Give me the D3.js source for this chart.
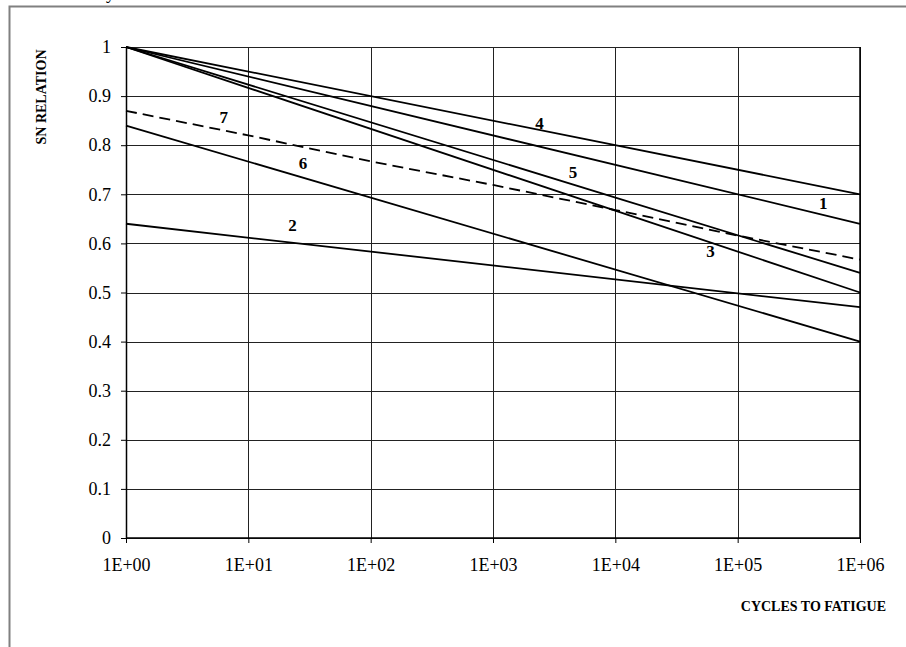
<!DOCTYPE html>
<html>
<head>
<meta charset="utf-8">
<script src="https://cdn.jsdelivr.net/npm/d3@7"></script>
<style>
  body { margin: 0; background: #fff; }
  text { font-family: "Liberation Serif", "Times New Roman", serif; }
</style>
</head>
<body>
<div id="chart"></div>
<script>
// S-N curves, cycles on a log axis
var cycles = [1, 1e6];
var dashedCycles = [1, 1e1, 1e2, 1e3, 1e4, 1e5, 1e6];

var curve1 = [1.0, 0.64];
var curve2 = [0.64, 0.47];
var curve3 = [1.0, 0.50];
var curve4 = [1.0, 0.70];
var curve5 = [1.0, 0.54];
var curve6 = [0.84, 0.40];
var curve7 = [0.87, 0.82, 0.767, 0.719, 0.668, 0.616, 0.567];

var xTicks = [1, 1e1, 1e2, 1e3, 1e4, 1e5, 1e6];
var xTickLabels = ["1E+00", "1E+01", "1E+02", "1E+03", "1E+04", "1E+05", "1E+06"];
var yTicks = [0, 0.1, 0.2, 0.3, 0.4, 0.5, 0.6, 0.7, 0.8, 0.9, 1];

// curve numbers and where they sit (cycles, relation)
var curveLabels = ["7", "6", "2", "4", "5", "3", "1"];
var labelAt = [[6.3, 0.857], [28, 0.763], [23, 0.637], [2400, 0.846], [4500, 0.745], [60000, 0.584], [500000, 0.683]];

var W = 906, H = 647;
var margin = {top: 47, right: 46, bottom: 109, left: 126},
    width = W - margin.left - margin.right,
    height = H - margin.top - margin.bottom;

var svg = d3.select("#chart").append("svg")
  .attr("width", W)
  .attr("height", H);

// outer frame (runs off the right/bottom of the picture)
svg.append("rect")
  .attr("x", 9.5).attr("y", 6.5)
  .attr("width", 1000).attr("height", 1000)
  .attr("fill", "none")
  .attr("stroke", "#808080")
  .attr("stroke-width", 2);

// tail of a title above the frame, clipped as in the source
svg.append("text")
  .attr("x", 106).attr("y", -1)
  .style("font-size", "18px")
  .text("y");

var g = svg.append("g")
  .attr("transform", "translate(" + margin.left + "," + margin.top + ")");

var x = d3.scaleLog().domain([1, 1e6]).range([0, width]);
var y = d3.scaleLinear().domain([0, 1]).range([height, 0]);

// grid
g.selectAll(".hgrid").data(yTicks).enter().append("line")
  .attr("x1", 0).attr("x2", width)
  .attr("y1", function(d) { return Math.round(y(d)) + 0.5; })
  .attr("y2", function(d) { return Math.round(y(d)) + 0.5; })
  .attr("stroke", "#222").attr("stroke-width", 1);
g.selectAll(".vgrid").data(xTicks).enter().append("line")
  .attr("y1", 0).attr("y2", height)
  .attr("x1", function(d) { return Math.round(x(d)) + 0.5; })
  .attr("x2", function(d) { return Math.round(x(d)) + 0.5; })
  .attr("stroke", "#222").attr("stroke-width", 1);

// axes
var yAxis = g.append("g")
  .call(d3.axisLeft(y).tickValues(yTicks).tickSize(5).tickPadding(10)
    .tickFormat(function(d) { return d3.format("")(+d.toFixed(1)); }));
var xAxis = g.append("g")
  .attr("transform", "translate(0," + height + ")")
  .call(d3.axisBottom(x).tickValues(xTicks).tickSize(5).tickPadding(15)
    .tickFormat(function(d, i) { return xTickLabels[i]; }));

[yAxis, xAxis].forEach(function(a) {
  a.attr("font-family", null);
  a.select(".domain").remove();
  a.selectAll(".tick line").attr("stroke", "#000").attr("stroke-width", 1);
  a.selectAll("text")
    .attr("fill", "#000")
    .style("font-family", "Liberation Serif, serif")
    .style("font-size", "18px");
});

// plot box edges
g.append("line").attr("x1", 0.5).attr("x2", 0.5).attr("y1", 0).attr("y2", height)
  .attr("stroke", "#000").attr("stroke-width", 1.5);
g.append("line").attr("x1", 0).attr("x2", width).attr("y1", height).attr("y2", height)
  .attr("stroke", "#000").attr("stroke-width", 1.5);
g.append("line").attr("x1", width).attr("x2", width).attr("y1", 0).attr("y2", height)
  .attr("stroke", "#000").attr("stroke-width", 1.5);

// curves
var line = d3.line()
  .x(function(d) { return x(d[0]); })
  .y(function(d) { return y(d[1]); });

[curve1, curve2, curve3, curve4, curve5, curve6].forEach(function(c) {
  g.append("path")
    .datum(d3.zip(cycles, c))
    .attr("d", line)
    .attr("fill", "none")
    .attr("stroke", "#000")
    .attr("stroke-width", 1.8);
});

g.append("path")
  .datum(d3.zip(dashedCycles, curve7))
  .attr("d", line)
  .attr("fill", "none")
  .attr("stroke", "#000")
  .attr("stroke-width", 1.8)
  .attr("stroke-dasharray", "11,6");

// curve numbers
g.selectAll(".clabel").data(curveLabels).enter().append("text")
  .attr("x", function(d, i) { return x(labelAt[i][0]); })
  .attr("y", function(d, i) { return y(labelAt[i][1]); })
  .attr("text-anchor", "middle")
  .attr("dy", "0.35em")
  .style("font-size", "17px")
  .style("font-weight", "bold")
  .text(function(d) { return d; });

// axis titles
svg.append("text")
  .attr("transform", "translate(41,97) rotate(-90)")
  .attr("text-anchor", "middle")
  .attr("dy", "0.35em")
  .style("font-size", "14px")
  .style("font-weight", "bold")
  .text("SN RELATION");

svg.append("text")
  .attr("x", 886).attr("y", 606)
  .attr("text-anchor", "end")
  .attr("dy", "0.35em")
  .style("font-size", "14px")
  .style("font-weight", "bold")
  .text("CYCLES TO FATIGUE");
</script>
</body>
</html>
